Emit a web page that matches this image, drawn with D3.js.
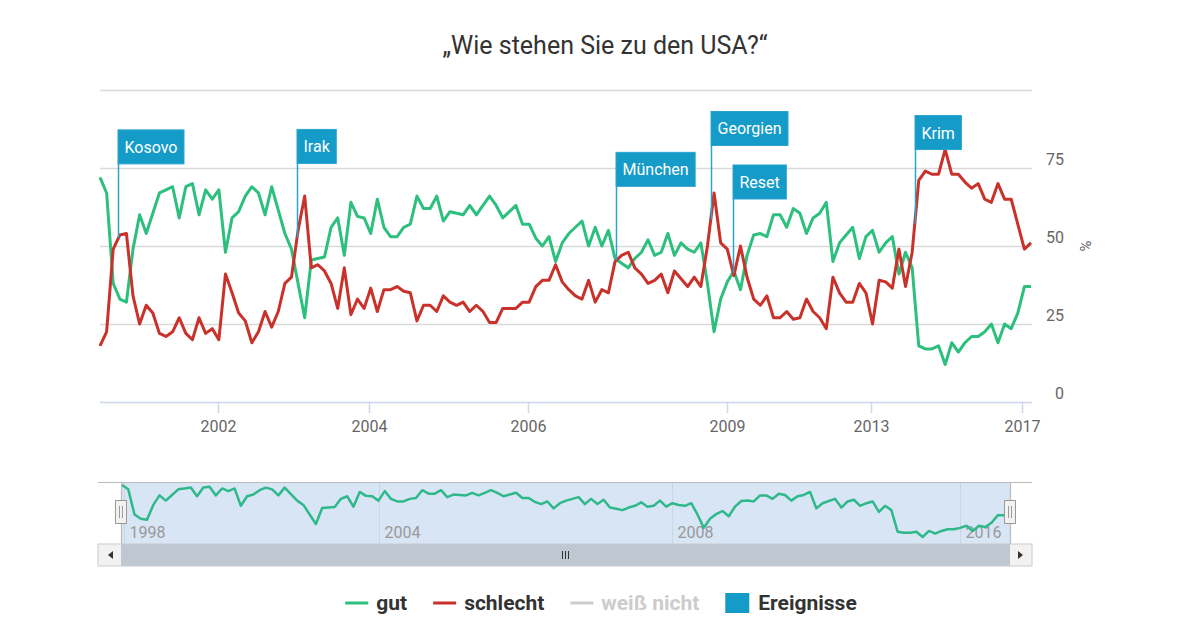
<!DOCTYPE html>
<html><head><meta charset="utf-8">
<script src="https://cdn.jsdelivr.net/npm/d3@7"></script>
<style>body{margin:0;background:#fff;} svg{display:block;font-family:Roboto,"Noto Sans",sans-serif;}</style>
</head><body><svg id="c" width="1200" height="627"></svg>
<script>
const gut = [72,67,38,33,32,49,60,54,60.5,67, 68,69,59,69,70,60,68,65,68,48, 59,61,66,69,67,60,69,61.5,54,49,
 38,27,45.5,46,46.5,56,59,47,64,59.5, 59,54,65,56,53,53,56,57,66,62, 62,66,58,61,60.5,60,63,60,63,66,
 63,59,61,63,57,57,52.5,50,53,45, 51,54,56,58,50,56,50,55,46,44.5, 43,46,48,52,47,48,54,47,51,49,
 48,51,38,22.5,33,38.5,42,36,47,53.5, 54,53,60,60,56,62,60.5,54,59,60.5, 64,45,51,53.5,56,46,53,55,48,51,
 53,41,48,43,18,17,17,18,12,19, 16,19,21,21,22.5,25,19,25,23.5,28.5, 37,37];
const schlecht = [18,22.5,49,53.5,54,34,25,31,28.5,22, 21,22.5,27,22,20,27,22,23.5,20,41, 35,28.5,26,19,22.5,29,24,29,38,40,
 55,66,43,44,42,38,30,43,28,33, 30,36.5,29,36,36,37,35.5,35,26,31, 31,29,34,32,31,32,29,31,29,25.5,
 25.5,30,30,30,32,32,37,39,39,44, 38.5,36,34,33,39,32,36,35,45,47, 48,43,41,38,39,41,35,42,39.5,37,
 40,37,50,67,51,49,40.5,50,40,33, 31,34,27,27,29,26.5,27,33,29,27, 23.5,40,35,32,32,38,35,25,39,38.5,
 36.5,49,37,48,71,74,73,73,81,73, 73,70.5,68.5,70,65,64,70,65,65,57, 49,51];
const xTickLabels = ["2002","2004","2006","2009","2013","2017"];
const xTickIndex = [17.8,40.8,64.8,94.9,116.7,139.7];
const yTicks = [0,25,50,75,100];
const events = ["Kosovo","Irak","München","Georgien","Reset","Krim"];
const eventIndex = [2.8,29.85,78.2,92.5,95.9,123.4];
const navTickLabels = ["1998","2004","2008","2016"];
const navTickIndex = [0.3,41.1,88.0,134.0];
const legendNames = ["gut","schlecht","weiß nicht","Ereignisse"];

const GREEN="#2dbf7d", RED="#c8322a", BLUE="#159bc8";
const svg = d3.select("#c");
svg.append("rect").attr("width",1200).attr("height",627).attr("fill","#fff");

const L=100,R=1032,T=90,B=402;
const x = d3.scaleLinear().domain([0,gut.length-1]).range([L,R-1]);
const y = d3.scaleLinear().domain([0,100]).range([B,T]);

// title
svg.append("text").attr("x",605).attr("y",54).attr("text-anchor","middle")
 .attr("font-size",25).attr("fill","#333").text("„Wie stehen Sie zu den USA?“");

// grid
svg.append("g").selectAll("line").data(yTicks.filter(d=>d>0)).join("line")
 .attr("x1",L).attr("x2",R).attr("y1",d=>Math.round(y(d))+0.5).attr("y2",d=>Math.round(y(d))+0.5)
 .attr("stroke","#d9d9d9").attr("stroke-width",1.5);
// y labels
svg.append("g").selectAll("text").data(yTicks.filter(d=>d<100)).join("text")
 .attr("x",1064).attr("y",d=>y(d)-3).attr("text-anchor","end").attr("font-size",16).attr("fill","#666").text(d=>d);
svg.append("text").attr("transform","translate(1080,246) rotate(90)").attr("text-anchor","middle")
 .attr("font-size",15).attr("fill","#666").text("%");

// x axis
svg.append("line").attr("x1",L).attr("x2",R).attr("y1",B+0.5).attr("y2",B+0.5).attr("stroke","#ccd6eb").attr("stroke-width",1.5);
const xt = svg.append("g");
xTickIndex.forEach((ti,k)=>{
  const px=Math.round(x(ti))+0.5;
  xt.append("line").attr("x1",px).attr("x2",px).attr("y1",B).attr("y2",B+11).attr("stroke","#ccd6eb").attr("stroke-width",1.5);
  xt.append("text").attr("x",px).attr("y",B+30).attr("text-anchor","middle").attr("font-size",16).attr("fill","#666").text(xTickLabels[k]);
});

// series
const line = d3.line().x((d,i)=>x(i)).y(d=>y(d));
svg.append("path").datum(gut).attr("d",line).attr("fill","none").attr("stroke",GREEN).attr("stroke-width",3).attr("stroke-linejoin","round");
svg.append("path").datum(schlecht).attr("d",line).attr("fill","none").attr("stroke",RED).attr("stroke-width",3).attr("stroke-linejoin","round");

// flags
function redAt(t){const i=Math.floor(t),f=t-i;return schlecht[i]+(schlecht[Math.min(i+1,schlecht.length-1)]-schlecht[i])*f;}
const fg = svg.append("g");
events.forEach((name,k)=>{
  const px=Math.round(x(eventIndex[k]))+0.5, py=y(redAt(eventIndex[k]));
  const bottom=py-74, h=34;
  const g=fg.append("g");
  g.append("line").attr("x1",px).attr("x2",px).attr("y1",bottom).attr("y2",py).attr("stroke","#2ba4d0").attr("stroke-width",1.5);
  const t=g.append("text").attr("x",px+6).attr("y",bottom-h/2+6).attr("font-size",16).attr("fill","#fff").text(name);
  const w=t.node().getComputedTextLength()+13;
  g.insert("rect","text").attr("x",px-0.5).attr("y",bottom-h).attr("width",w).attr("height",h).attr("fill",BLUE).attr("stroke","#2ba4d0").attr("stroke-width",1);
});

// navigator
const NL=98,NR=1032,NT=482,NB=544,ML=121,MR=1010;
const nx = d3.scaleLinear().domain([0,gut.length-1]).range([ML+1,MR-6]);
const ny = d3.scaleLinear().domain([d3.min(gut),d3.max(gut)]).range([537,485]);
svg.append("rect").attr("x",ML).attr("y",NT).attr("width",MR-ML).attr("height",NB-NT).attr("fill","#d8e5f5");
navTickIndex.forEach((ti,k)=>{
  const px=Math.round(nx(ti))+0.5;
  svg.append("line").attr("x1",px).attr("x2",px).attr("y1",NT).attr("y2",NB).attr("stroke","#c9d6e8").attr("stroke-width",1);
  svg.append("text").attr("x",px+5).attr("y",538).attr("font-size",16).attr("fill","#999").text(navTickLabels[k]);
});
svg.append("path").datum(gut).attr("d",d3.line().x((d,i)=>nx(i)).y(d=>ny(d)))
 .attr("fill","none").attr("stroke","#2fb98a").attr("stroke-width",2.5).attr("stroke-linejoin","round");
svg.append("path").attr("d",`M${NL},${NT+0.5}H${NR}M${ML+0.5},${NT}V${NB}M${MR+0.5},${NT}V${NB}`).attr("stroke","#bbb").attr("stroke-width",1.2).attr("fill","none");
// handles
[[115,ML],[1004,MR]].forEach(([hx])=>{
  svg.append("rect").attr("x",hx+0.5).attr("y",500.5).attr("width",11).attr("height",23).attr("fill","#f2f2f2").attr("stroke","#999").attr("stroke-width",1);
  [4.5,7.5].forEach(o=>svg.append("line").attr("x1",hx+o).attr("x2",hx+o).attr("y1",506).attr("y2",518).attr("stroke","#999"));
});
// scrollbar
svg.append("rect").attr("x",NL).attr("y",NB).attr("width",NR-NL).attr("height",22).attr("fill","#f2f2f2").attr("stroke","#ccc");
svg.append("rect").attr("x",ML).attr("y",NB).attr("width",MR-ML).attr("height",22).attr("fill","#bfc7d1");
svg.append("path").attr("d",`M${NL+15},${NB+7}L${NL+10},${NB+11}L${NL+15},${NB+15}Z`).attr("fill","#333");
svg.append("path").attr("d",`M${NR-14},${NB+7}L${NR-9},${NB+11}L${NR-14},${NB+15}Z`).attr("fill","#333");
[-3,0,3].forEach(o=>svg.append("line").attr("x1",565.5+o).attr("x2",565.5+o).attr("y1",NB+7).attr("y2",NB+15).attr("stroke","#333"));

// legend
const lg = svg.append("g");
const legendColors=[GREEN,RED,"#cccccc",BLUE];
const textColors=["#333","#333","#cccccc","#333"];
const items=[];
legendNames.forEach((n,k)=>{
  const g=lg.append("g");
  if(k<3) g.append("line").attr("x1",0).attr("x2",23).attr("y1",0).attr("y2",0).attr("stroke",legendColors[k]).attr("stroke-width",3);
  else g.append("rect").attr("x",0).attr("y",-10).attr("width",24).attr("height",20).attr("fill",BLUE);
  const t=g.append("text").attr("x",k<3?31:33).attr("y",7).attr("font-size",21).attr("font-weight","bold").attr("fill",textColors[k]).text(n);
  const w=(k<3?31:33)+t.node().getComputedTextLength();
  items.push({g,w});
});
const gap=26;
const total=d3.sum(items,d=>d.w)+gap*(items.length-1);
let sx=601-total/2;
items.forEach(it=>{it.g.attr("transform",`translate(${sx},603)`);sx+=it.w+gap;});
</script></body></html>
